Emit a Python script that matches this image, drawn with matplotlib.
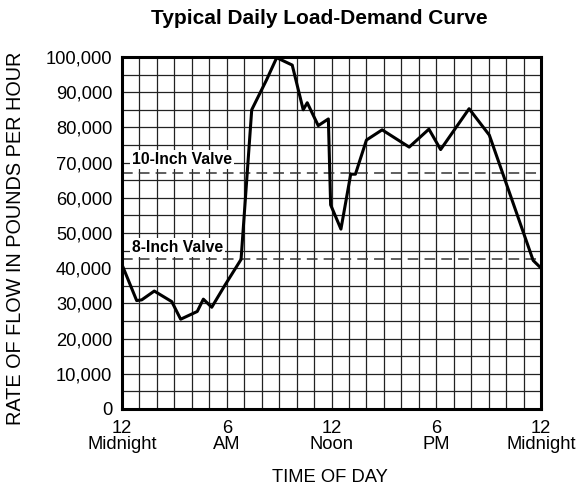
import matplotlib.pyplot as plt
import numpy as np

plt.rcParams['font.family'] = ['Liberation Sans', 'DejaVu Sans']

# hours since midnight, flow in lb/h
hours = [0, 0.84, 1.13, 1.85, 2.85, 3.36, 4.31, 4.66, 5.14, 5.9, 6.82, 7.43,
         8.28, 8.86, 9.75, 10.38, 10.61, 11.24, 11.82, 11.95, 12.54, 13.1,
         13.37, 14.0, 14.9, 16.45, 17.58, 18.25, 19.88, 21.04, 23.55, 23.9, 24]
flow = [41000, 30800, 31000, 33500, 30500, 25500, 27700, 31200, 28900, 35200,
        42500, 85000, 93500, 99800, 97700, 85000, 87000, 80500, 82400, 58000,
        51100, 66700, 66700, 76400, 79300, 74400, 79500, 73700, 85300, 77800,
        42200, 40500, 40000]

valve_levels = [67000, 42500]
valve_labels = ['10-Inch Valve', '8-Inch Valve']
label_y = [71000, 45800]

xtick_pos = [0, 6, 12, 18, 24]
xtick_labels = ['12\nMidnight', '6\nAM', '12\nNoon', '6\nPM', '12\nMidnight']

fig = plt.figure(figsize=(5.79, 4.87), dpi=100)
ax = fig.add_axes([0.2107, 0.1602, 0.7237, 0.7228])

ax.set_xlim(0, 24)
ax.set_ylim(0, 100000)
ax.set_xticks(np.arange(0, 25, 1), minor=True)
ax.set_yticks(np.arange(0, 100001, 5000), minor=True)
ax.grid(which='both', color='#222222', linewidth=0.9)
ax.set_axisbelow(True)

ax.set_xticks(xtick_pos)
ax.set_xticklabels(xtick_labels, fontsize=13.2, linespacing=0.9)
ax.set_yticks(np.arange(0, 100001, 10000))
ax.set_yticklabels(['{:,}'.format(v) for v in range(0, 100001, 10000)], fontsize=13.2)
ax.tick_params(which='both', length=0)
ax.tick_params(axis='y', pad=7)
ax.tick_params(axis='x', pad=8)

for lvl, lab, ly in zip(valve_levels, valve_labels, label_y):
    ax.axhline(lvl, color='#333333', linewidth=1.1, dashes=(7, 4), zorder=2)
    ax.text(0.55, ly, lab, fontsize=11.3, fontweight='bold', va='center', ha='left',
            bbox=dict(facecolor='white', edgecolor='none', pad=1.5), zorder=3)

ax.plot(hours, flow, color='black', linewidth=2.2, zorder=4)

for s in ax.spines.values():
    s.set_linewidth(2.2)

fig.text(319.5 / 579, 1 - 19 / 487, 'Typical Daily Load-Demand Curve', fontsize=15,
         fontweight='bold', ha='center', va='center')
fig.text(16 / 579, 1 - 238 / 487, 'RATE OF FLOW IN POUNDS PER HOUR', fontsize=14.3,
         rotation=90, ha='center', va='center')
fig.text(330 / 579, 1 - 478 / 487, 'TIME OF DAY', fontsize=13.2, ha='center', va='center')

fig.savefig('out.png', dpi=100)
